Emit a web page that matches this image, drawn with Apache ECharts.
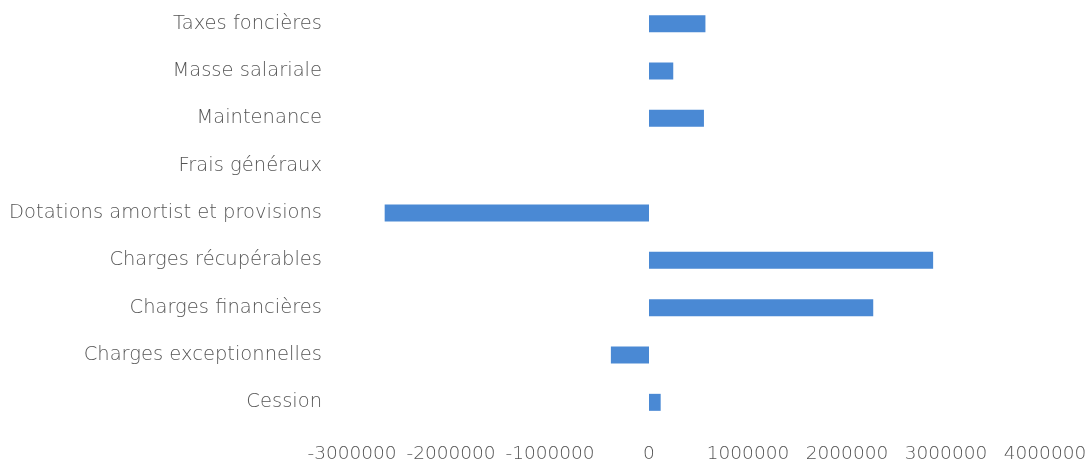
<!DOCTYPE html>
<html>
<head>
<meta charset="utf-8">
<script src="https://cdn.jsdelivr.net/npm/echarts@6/dist/echarts.min.js"></script>
<style>
  html, body { margin: 0; padding: 0; background: #ffffff; }
  #chart { width: 1092px; height: 465px; }
</style>
</head>
<body>
<div id="chart"></div>
<script>
// Budget line items, listed bottom to top as the category axis draws them
const categories = [
  'Cession',
  'Charges exceptionnelles',
  'Charges financières',
  'Charges récupérables',
  'Dotations amortist et provisions',
  'Frais généraux',
  'Maintenance',
  'Masse salariale',
  'Taxes foncières'
];
const values = [118000, -385000, 2265000, 2870000, -2670000, 0, 555000, 245000, 570000];
const axisMin = -3000000;
const axisMax = 4000000;
const axisStep = 1000000;

const chart = echarts.init(document.getElementById('chart'));
chart.setOption({
  animation: false,
  grid: { left: 352, right: 47, top: -2, bottom: 39, containLabel: false },
  xAxis: {
    type: 'value',
    min: axisMin,
    max: axisMax,
    interval: axisStep,
    axisLine: { show: false },
    axisTick: { show: false },
    splitLine: { show: false },
    axisLabel: {
      color: '#555555',
      fontFamily: 'DejaVu Sans',
      fontWeight: 200,
      fontSize: 18.5,
      margin: 19,
      formatter: v => String(v)
    }
  },
  yAxis: {
    type: 'category',
    data: categories,
    axisLine: { show: false },
    axisTick: { show: false },
    axisLabel: {
      color: '#555555',
      fontFamily: 'DejaVu Sans',
      fontWeight: 200,
      fontSize: 19.5,
      margin: 30
    }
  },
  series: [{
    type: 'bar',
    data: values,
    barWidth: 17,
    itemStyle: { color: '#4a89d4' }
  }]
});
</script>
</body>
</html>
